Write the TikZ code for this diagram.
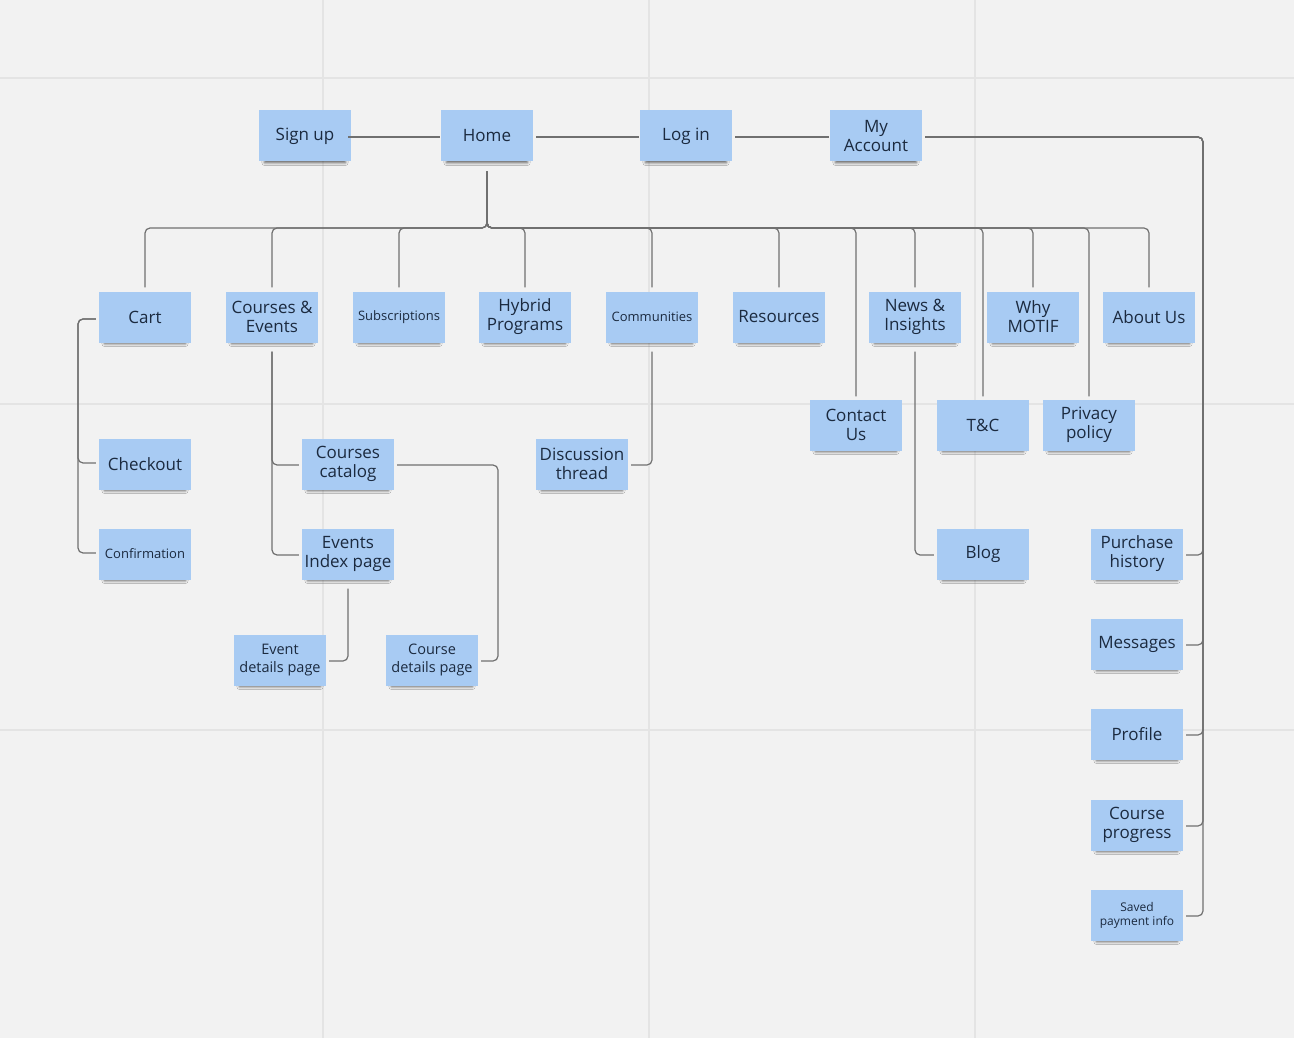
\documentclass[tikz,border=0pt]{standalone}
\usepackage{fontspec}
\setmainfont{Open Sans}
\usetikzlibrary{calc,shadows.blur}
\definecolor{bg}{HTML}{F2F2F2}
\definecolor{gridc}{HTML}{E4E4E4}
\definecolor{note}{HTML}{A8CBF3}
\definecolor{ink}{HTML}{1B2A3F}
\definecolor{wire}{HTML}{707070}
\begin{document}
\begin{tikzpicture}[x=1pt,y=-1pt,
  sticky/.style={draw=none, fill=note, minimum width=92pt, minimum height=51pt, inner sep=1pt,
    align=center, text=ink, font=\fontsize{17}{19}\selectfont,
    blur shadow={shadow xshift=0pt, shadow yshift=-5pt, shadow scale=0.88, shadow blur radius=3pt, shadow opacity=60}},
  small/.style={font=\fontsize{13}{15}\selectfont},
  mid/.style={font=\fontsize{14.5}{17.5}\selectfont},
  tiny/.style={font=\fontsize{12}{14}\selectfont},
  conn/.style={draw=wire, line width=1.2pt, rounded corners=5pt},
  gridline/.style={draw=gridc, line width=1.5pt}]
\useasboundingbox (0,0) rectangle (1294,1038);
\fill[bg] (0,0) rectangle (1294,1038);
% grid
\foreach \gx in {323,649,975} \draw[gridline] (\gx,0) -- (\gx,1038);
\foreach \gy in {78,404,730} \draw[gridline] (0,\gy) -- (1294,\gy);

% coordinates for rails
\coordinate (bus) at (0,228);
\coordinate (acctrail) at (1203,0);
\coordinate (cartrail) at (78,0);
\coordinate (ccrail) at (498,0);

% top row
\node[sticky] (signup) at (305,136) {Sign up};
\node[sticky] (home) at (487,136) {Home};
\node[sticky] (login) at (686,136) {Log in};
\node[sticky] (acct) at (876,136) {My\\Account};

% second row
\node[sticky] (cart) at (145,317) {Cart};
\node[sticky] (ce) at (272,317) {Courses \&\\Events};
\node[sticky,small] (subs) at (399,317) {Subscriptions};
\node[sticky] (hybrid) at (525,317) {Hybrid\\Programs};
\node[sticky,small] (comm) at (652,317) {Communities};
\node[sticky] (res) at (779,317) {Resources};
\node[sticky] (news) at (915,317) {News \&\\Insights};
\node[sticky] (why) at (1033,317) {Why\\MOTIF};
\node[sticky] (about) at (1149,317) {About Us};

% third row
\node[sticky] (contact) at (856,425) {Contact\\Us};
\node[sticky] (tc) at (983,425) {T\&C};
\node[sticky] (privacy) at (1089,425) {Privacy\\policy};

\node[sticky] (checkout) at (145,464) {Checkout};
\node[sticky] (catalog) at (348,464) {Courses\\catalog};
\node[sticky] (disc) at (582,464) {Discussion\\thread};
\node[sticky,small] (confirm) at (145,554) {Confirmation};
\node[sticky] (events) at (348,554) {Events\\Index page};
\node[sticky] (blog) at (983,554) {Blog};
\node[sticky,mid] (eventd) at (280,660) {Event\\details page};
\node[sticky,mid] (coursed) at (432,660) {Course\\details page};

% account column
\node[sticky] (purchase) at (1137,554) {Purchase\\history};
\node[sticky] (msgs) at (1137,644) {Messages};
\node[sticky] (profile) at (1137,734) {Profile};
\node[sticky] (progress) at (1137,825) {Course\\progress};
\node[sticky,tiny] (saved) at (1137,915) {Saved\\payment info};

% top connectors
\draw[conn] ($(signup.east)+(-3,1)$) -- ($(home.west)+(-1,1)$);
\draw[conn] ($(home.east)+(3,1)$) -- ($(login.west)+(-1,1)$);
\draw[conn] ($(login.east)+(3,1)$) -- ($(acct.west)+(-1,1)$);

% home bus
\foreach \c in {cart,ce,subs,hybrid,comm,res,news,why,about}
  \draw[conn] ($(home.south)+(0,10)$) -- (home.south |- bus) -| ($(\c.north)+(0,-4)$);
\foreach \c in {contact,tc,privacy}
  \draw[conn] ($(home.south)+(0,10)$) -- (home.south |- bus) -| ($(\c.north)+(0,-3)$);

% account rail
\foreach \c in {purchase,msgs,profile,progress,saved}
  \draw[conn] ($(acct.east)+(3,1)$) -- ($(acct.east -| acctrail)+(0,1)$) |- ($(\c.east)+(3,1)$);

% cart
\foreach \c in {checkout,confirm}
  \draw[conn] ($(cart.west)+(-3,2)$) -- ($(cart.west -| cartrail)+(0,2)$) |- ($(\c.west)+(-3,-1)$);

% courses & events
\foreach \c in {catalog,events}
  \draw[conn] ($(ce.south)+(0,9)$) |- ($(\c.west)+(-3,1)$);

% catalog -> course details
\draw[conn] ($(catalog.east)+(3,1)$) -- ($(catalog.east -| ccrail)+(0,1)$) |- ($(coursed.east)+(3,1)$);

% events index -> event details
\draw[conn] ($(events.south)+(0,9)$) |- ($(eventd.east)+(3,1)$);

% communities -> discussion
\draw[conn] ($(comm.south)+(0,9)$) |- ($(disc.east)+(3,1)$);

% news -> blog
\draw[conn] ($(news.south)+(0,9)$) |- ($(blog.west)+(-3,1)$);
\end{tikzpicture}
\end{document}
